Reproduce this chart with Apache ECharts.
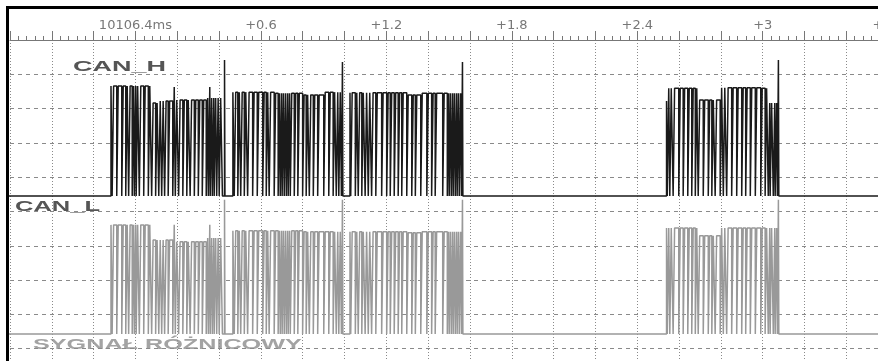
<!DOCTYPE html>
<html>
<head>
<meta charset="utf-8">
<script src="https://cdn.jsdelivr.net/npm/echarts@6/dist/echarts.min.js"></script>
<style>
  html, body { margin: 0; padding: 0; background: #fff; }
  #chart { width: 878px; height: 361px; }
</style>
</head>
<body>
<div id="chart"></div>
<script>
// time axis in µs after the 10106.4 ms marker, y in screen divisions
const tickLabels = ['10106.4ms', '+0.6', '+1.2', '+1.8', '+2.4', '+3', '+3.6'];

const frameRise = [-117, 466, 1026, 2540];
const frameFall = [416, 985, 1559, 3070];
const spikeAt = [426, 990, 1564, 3075];

// narrow recessive dips inside each frame (µs)
const dips1 = [-108, -86, -62, -43, -29, -12, -2, 7, 22, 43, 65, 81, 100, 115, 129, 143, 160, 182, 194,
  210, 230, 249, 265, 285, 304, 323, 342, 352, 361, 371, 380, 392, 404];
const dips2 = [476, 493, 507, 524, 540, 564, 586, 612, 629, 643, 667, 686, 696, 705, 715, 725, 734, 744,
  763, 780, 803, 820, 835, 854, 875, 904, 928, 949, 964, 976];
const dips3 = [1033, 1055, 1069, 1086, 1102, 1117, 1133, 1153, 1181, 1205, 1222, 1241, 1260, 1277, 1301,
  1325, 1342, 1368, 1397, 1420, 1437, 1473, 1495, 1504, 1514, 1523, 1533, 1542, 1552];
const dips4 = [2547, 2559, 2575, 2602, 2623, 2645, 2664, 2681, 2695, 2719, 2743, 2760, 2776, 2800, 2815,
  2831, 2855, 2879, 2903, 2922, 2944, 2968, 2994, 3015, 3030, 3039, 3054, 3063];
const dipHalf = 3.5;

// CAN_H
const hBase = 5.45;
const hSpike = [9.42, 9.36, 9.36, 9.42];
const hLevels1 = [[-117, 8.66], [81, 8.16], [115, 8.22], [182, 8.63], [194, 8.25], [342, 8.31], [352, 8.63], [361, 8.31]];
const hLevels2 = [[466, 8.48], [667, 8.45], [803, 8.40], [904, 8.48]];
const hLevels3 = [[1026, 8.46], [1301, 8.40], [1368, 8.45]];
const hLevels4 = [[2540, 8.22], [2547, 8.59], [2695, 8.25], [2800, 8.61], [2994, 8.59], [3030, 8.16]];

// CAN_L
const lBase = 1.43;
const lSpike = [5.34, 5.34, 5.34, 5.34];
const lLevels1 = [[-117, 4.61], [81, 4.17], [182, 4.61], [194, 4.12], [342, 4.23], [352, 4.61], [361, 4.23]];
const lLevels2 = [[466, 4.44], [803, 4.41]];
const lLevels3 = [[1026, 4.41], [1301, 4.38], [1368, 4.41]];
const lLevels4 = [[2540, 4.52], [2695, 4.29], [2800, 4.52]];

const allDips = [dips1, dips2, dips3, dips4];

function trace(base, levels, spikes) {
  const pts = [[-700, base]];
  allDips.forEach((dips, i) => {
    const lv = (t) => {
      let v = levels[i][0][1];
      levels[i].forEach(([t0, l]) => { if (t >= t0) v = l; });
      return v;
    };
    pts.push([frameRise[i], base], [frameRise[i], lv(frameRise[i])]);
    dips.forEach((c) => {
      pts.push([c - dipHalf, lv(c - 4)], [c - dipHalf, base], [c + dipHalf, base], [c + dipHalf, lv(c + 4)]);
    });
    pts.push([frameFall[i], lv(frameFall[i] - 1)], [frameFall[i], base]);
    const s = spikeAt[i];
    pts.push([s, base], [s, spikes[i]], [s + 2, spikes[i]], [s + 2, base]);
  });
  pts.push([4000, base]);
  return pts;
}

const chart = echarts.init(document.getElementById('chart'));
const grey = '#8a8a8a';

chart.setOption({
  animation: false,
  grid: { left: 10, top: 40, width: 920, height: 343, containLabel: false, outerBoundsMode: 'none' },
  xAxis: {
    type: 'value',
    position: 'top',
    min: -600,
    max: 3800,
    interval: 200,
    axisLine: { show: true, onZero: false, lineStyle: { color: '#777', width: 1 } },
    axisTick: { show: true, length: 9, lineStyle: { color: '#777' } },
    minorTick: { show: true, splitNumber: 5, length: 4, lineStyle: { color: '#777' } },
    axisLabel: {
      margin: 8,
      fontFamily: 'DejaVu Sans',
      fontSize: 13,
      color: '#777',
      formatter: (v) => (v >= 0 && v % 600 === 0 ? tickLabels[v / 600] : ''),
    },
    splitLine: { show: true, lineStyle: { color: grey, type: [1, 2] } },
  },
  yAxis: {
    type: 'value',
    min: 0,
    max: 10,
    interval: 1,
    axisLine: { show: false },
    axisTick: { show: false },
    axisLabel: { show: false },
    splitLine: { show: true, lineStyle: { color: grey, type: [4, 4] } },
  },
  series: [
    {
      name: 'CAN_L',
      type: 'line',
      showSymbol: false,
      lineStyle: { color: '#999', width: 1.5 },
      data: trace(lBase, [lLevels1, lLevels2, lLevels3, lLevels4], lSpike),
    },
    {
      name: 'CAN_H',
      type: 'line',
      showSymbol: false,
      lineStyle: { color: '#1a1a1a', width: 1.5 },
      data: trace(hBase, [hLevels1, hLevels2, hLevels3, hLevels4], hSpike),
    },
  ],
  graphic: [
    { type: 'rect', shape: { x: 6, y: 6, width: 872, height: 3 }, style: { fill: '#000' } },
    { type: 'rect', shape: { x: 6, y: 6, width: 3, height: 355 }, style: { fill: '#000' } },
    {
      type: 'text', x: 73, y: 67, scaleX: 1.8,
      style: { text: 'CAN_H', font: 'bold 15px "Liberation Sans"', fill: '#555', textVerticalAlign: 'middle' },
    },
    {
      type: 'text', x: 15, y: 207, scaleX: 1.7,
      style: { text: 'CAN_L', font: 'bold 15px "Liberation Sans"', fill: '#555', textVerticalAlign: 'middle' },
    },
    {
      type: 'text', x: 33, y: 345, scaleX: 1.68,
      style: { text: 'SYGNAŁ RÓŻNICOWY', font: 'bold 15px "Liberation Sans"', fill: '#a3a3a3', textVerticalAlign: 'middle' },
    },
  ],
});
</script>
</body>
</html>
